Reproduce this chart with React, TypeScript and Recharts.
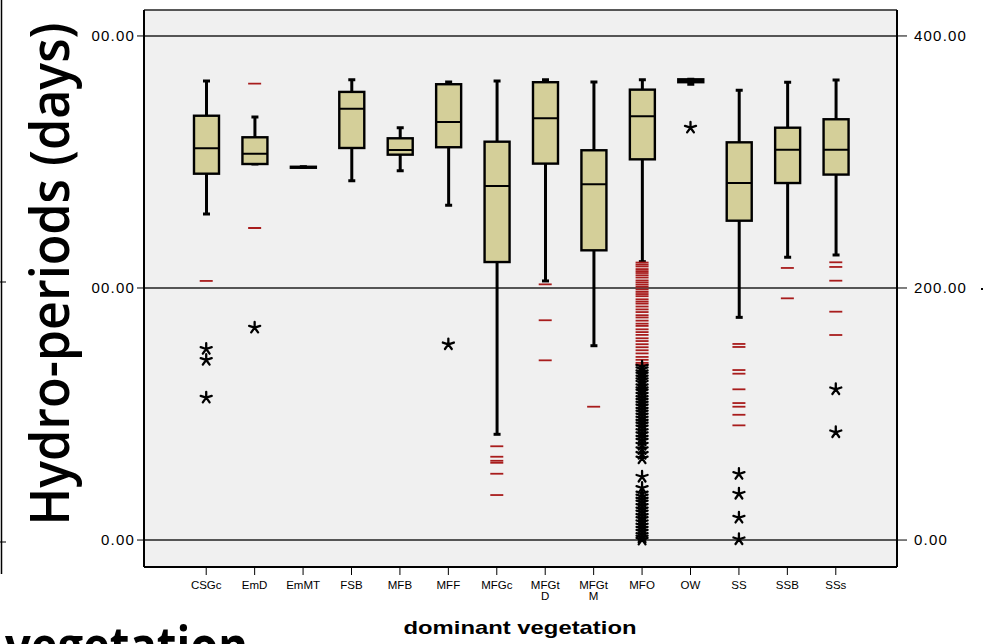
import React from "react";
import {
  Bar,
  CartesianGrid,
  ComposedChart,
  Scatter,
  XAxis,
  YAxis,
} from "recharts";

const categories = [
  "CSGc", "EmD", "EmMT", "FSB", "MFB", "MFF", "MFGc",
  "MFGt D", "MFGt M", "MFO", "OW", "SS", "SSB", "SSs",
];

const whiskerLow = [258.7, 298.4, 295.8, 285.2, 293.1, 265.6, 83.9, 205.6, 154.2, 220.9, 361.7, 176.7, 224.4, 226.2];
const q1 = [290.7, 298.4, 295.8, 311.1, 305.8, 311.7, 220.6, 298.7, 229.9, 302.1, 363.3, 253.4, 283.3, 290.0];
const median = [310.9, 306.6, 296.0, 342.3, 309.5, 331.7, 281.0, 334.7, 282.3, 336.3, 364.3, 283.3, 309.8, 309.8];
const q3 = [336.7, 319.6, 296.2, 355.6, 318.8, 361.7, 316.1, 363.3, 309.3, 357.4, 365.6, 315.6, 327.2, 333.9];
const whiskerHigh = [364.3, 335.7, 296.2, 365.3, 327.2, 363.5, 364.3, 365.3, 363.5, 365.3, 365.6, 356.9, 363.3, 365.1];

// outliers (red dashes)
const mfoOutliers = [
  220.2, 218.6, 217.1, 215.0, 213.4, 211.9, 210.1, 208.3, 206.0, 204.4, 202.7, 201.0,
  198.8, 196.9, 195.2, 193.5, 191.0, 189.2, 187.6, 185.3, 183.0, 180.9, 178.4, 176.6,
  174.1, 171.7, 169.9, 167.2, 165.0, 162.8, 160.1, 157.9, 155.4, 153.0, 150.6, 148.1,
  145.3, 143.0, 140.6, 139.2,
];
const otherOutliers: [string, number][] = [
  ["CSGc", 205.6],
  ["EmD", 362.1], ["EmD", 247.6],
  ["MFGc", 74.4], ["MFGc", 66.1], ["MFGc", 62.9], ["MFGc", 61.3], ["MFGc", 52.6], ["MFGc", 35.7],
  ["MFGt D", 202.9], ["MFGt D", 174.4], ["MFGt D", 142.6],
  ["MFGt M", 105.8],
  ["SS", 155.6], ["SS", 153.2], ["SS", 134.9], ["SS", 132.0], ["SS", 119.6],
  ["SS", 108.7], ["SS", 105.8], ["SS", 99.4], ["SS", 91.0],
  ["SSB", 215.9], ["SSB", 191.8],
  ["SSs", 220.4], ["SSs", 216.7], ["SSs", 205.8], ["SSs", 181.2], ["SSs", 162.7],
];

// extremes (stars)
const mfoExtremes = [
  137.5, 135.6, 133.2, 131.4, 129.0, 126.9, 124.8, 122.1, 119.7, 117.9, 115.4, 112.8,
  110.6, 108.3, 106.1, 103.5, 101.2, 98.9, 96.4, 94.0, 91.8, 89.3, 86.5, 84.0, 81.2,
  78.9, 75.6, 72.1, 68.4, 64.8, 50.2, 41.3, 37.0, 34.6, 32.1, 29.8, 27.0, 24.3, 21.9,
  19.2, 16.8, 14.1, 11.5, 9.0, 6.6, 4.1, 2.0, 0.3,
];
const otherExtremes: [string, number][] = [
  ["CSGc", 151.6], ["CSGc", 142.9], ["CSGc", 113.0],
  ["EmD", 168.5],
  ["MFF", 155.3],
  ["OW", 327.2],
  ["SS", 52.4], ["SS", 36.7], ["SS", 17.7], ["SS", 0.6],
  ["SSs", 119.6], ["SSs", 85.5],
];

const yTicks = [0, 200, 400];

const rows = categories.map((name, i) => ({
  name,
  low: whiskerLow[i],
  q1: q1[i],
  med: median[i],
  q3: q3[i],
  high: whiskerHigh[i],
}));

const outlierPts = [
  ...otherOutliers.map(([name, v]) => ({ name, v })),
  ...mfoOutliers.map((v) => ({ name: "MFO", v })),
];
const extremePts = [
  ...otherExtremes.map(([name, v]) => ({ name, v })),
  ...mfoExtremes.map((v) => ({ name: "MFO", v })),
];

const BOX_FILL = "#d4cf99";
const RED = "#a81c1c";

function BoxShape(props: any) {
  const { x, y, width, height, payload } = props;
  const top = Math.min(y, y + height);
  const bot = Math.max(y, y + height);
  const span = payload.high - payload.low;
  const py = (v: number) =>
    span === 0 ? top : top + ((payload.high - v) / span) * (bot - top);
  const cx = x + width / 2;
  const yq3 = py(payload.q3);
  const yq1 = py(payload.q1);
  const ym = py(payload.med);
  return (
    <g>
      <line x1={cx} x2={cx} y1={top} y2={bot} stroke="#000" strokeWidth={3} />
      <line x1={cx - 3.5} x2={cx + 3.5} y1={top} y2={top} stroke="#000" strokeWidth={3} />
      <line x1={cx - 3.5} x2={cx + 3.5} y1={bot} y2={bot} stroke="#000" strokeWidth={3} />
      <rect
        x={x}
        y={yq3}
        width={width}
        height={Math.max(yq1 - yq3, 1)}
        fill={BOX_FILL}
        stroke="#000"
        strokeWidth={2.4}
      />
      <line x1={x} x2={x + width} y1={ym} y2={ym} stroke="#000" strokeWidth={2} />
    </g>
  );
}

function Dash(props: any) {
  const { cx, cy } = props;
  return <line x1={cx - 6.5} x2={cx + 6.5} y1={cy} y2={cy} stroke={RED} strokeWidth={1.8} />;
}

function Star(props: any) {
  const { cx, cy } = props;
  const r = 5.8;
  const d = [0, 1, 2, 3, 4]
    .map((k) => {
      const a = (-90 + k * 72) * (Math.PI / 180);
      return `M${cx},${cy}L${cx + r * Math.cos(a)},${cy + r * Math.sin(a)}`;
    })
    .join("");
  return <path d={d} stroke="#000" strokeWidth={2.3} fill="none" strokeLinecap="round" />;
}

function CatTick(props: any) {
  const { x, y, payload } = props;
  const parts = String(payload.value).split(" ");
  return (
    <text
      x={x}
      y={y + 12}
      textAnchor="middle"
      fontSize={11.5}
      fontFamily="'Liberation Sans', Arial, sans-serif"
      fill="#000"
    >
      {parts.map((p, i) => (
        <tspan key={i} x={x} dy={i === 0 ? 0 : 11}>
          {p}
        </tspan>
      ))}
    </text>
  );
}

const tickFont = {
  fontSize: 15,
  letterSpacing: 1.2,
  fontFamily: "'Liberation Sans', Arial, sans-serif",
  fill: "#000",
};

export default function App() {
  return (
    <div style={{ position: "absolute", left: 0, top: 0, width: 992, height: 644, background: "#fff" }}>
      <ComposedChart
        width={992}
        height={644}
        data={rows}
        margin={{ top: 10, right: 15, bottom: 37, left: 84 }}
        barCategoryGap={0}
      >
        <CartesianGrid vertical={false} fill="#f0f0f0" stroke="#222" strokeWidth={1.5} />
        <XAxis
          dataKey="name"
          type="category"
          allowDuplicatedCategory={false}
          height={40}
          padding={{ left: 38, right: 37 }}
          tickSize={8}
          tick={<CatTick />}
          interval={0}
          axisLine={{ stroke: "#000", strokeWidth: 2 }}
          tickLine={{ stroke: "#000", strokeWidth: 1 }}
        />
        <XAxis
          xAxisId="top"
          dataKey="name"
          orientation="top"
          height={0}
          tick={false}
          tickLine={false}
          allowDuplicatedCategory={false}
          axisLine={{ stroke: "#000", strokeWidth: 2 }}
        />
        <YAxis
          width={60}
          domain={[-21.4, 420.6]}
          ticks={yTicks}
          type="number"
          allowDataOverflow
          tickSize={7}
          tick={tickFont}
          tickFormatter={(v: number) => (v === 0 ? "0.00" : "00.00")}
          axisLine={{ stroke: "#000", strokeWidth: 2 }}
          tickLine={{ stroke: "#000", strokeWidth: 1 }}
        />
        <YAxis
          yAxisId="r"
          orientation="right"
          width={80}
          domain={[-21.4, 420.6]}
          ticks={yTicks}
          type="number"
          allowDataOverflow
          tickSize={10}
          tickMargin={7}
          tick={tickFont}
          tickFormatter={(v: number) => v.toFixed(2)}
          axisLine={{ stroke: "#000", strokeWidth: 2 }}
          tickLine={{ stroke: "#000", strokeWidth: 1 }}
        />
        <Bar
          dataKey={(d: any) => [d.low, d.high]}
          barSize={25}
          shape={<BoxShape />}
          isAnimationActive={false}
        />
        <Scatter data={outlierPts} dataKey="v" shape={<Dash />} isAnimationActive={false} />
        <Scatter data={extremePts} dataKey="v" shape={<Star />} isAnimationActive={false} />
      </ComposedChart>
      <svg
        width={992}
        height={644}
        style={{ position: "absolute", left: 0, top: 0, pointerEvents: "none" }}
      >
        <text
          transform="translate(69, 274) rotate(-90)"
          textAnchor="middle"
          fontSize={54}
          fontWeight={600}
          fontFamily="'Open Sans', sans-serif"
          textLength={503}
          lengthAdjust="spacingAndGlyphs"
          fill="#000"
        >
          Hydro-periods (days)
        </text>
        <text
          x={5}
          y={664}
          fontSize={52}
          fontWeight={700}
          fontFamily="'Open Sans', sans-serif"
          textLength={243}
          lengthAdjust="spacingAndGlyphs"
          fill="#000"
        >
          vegetation
        </text>
        <text
          x={520}
          y={634}
          textAnchor="middle"
          fontSize={19}
          fontWeight="bold"
          fontFamily="'Liberation Sans', Arial, sans-serif"
          textLength={233}
          lengthAdjust="spacingAndGlyphs"
          fill="#000"
        >
          dominant vegetation
        </text>
        <line x1={1.5} x2={1.5} y1={0} y2={574} stroke="#000" strokeWidth={1.5} />
        <line x1={0} x2={6} y1={282} y2={282} stroke="#000" strokeWidth={1} />
        <line x1={0} x2={6} y1={542} y2={542} stroke="#000" strokeWidth={1} />
        <rect x={981} y={288} width={2} height={2} fill="#000" />
      </svg>
    </div>
  );
}
